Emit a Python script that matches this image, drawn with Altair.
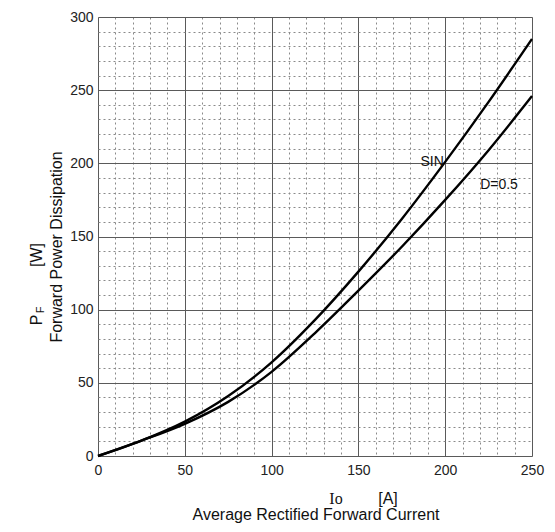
import altair as alt
import pandas as pd

# Readings from the reference (Io in A, PF in W)
current = [0, 25, 50, 75, 100, 125, 150, 175, 200, 225, 250]
p_sin = [0, 10.5, 23.5, 41, 64, 93, 126, 162, 201, 242, 285]
p_d05 = [0, 10.5, 22, 37, 57.5, 84, 113, 143, 175, 209, 246]

x_ticks = list(range(0, 251, 10))
y_ticks = list(range(0, 301, 10))

curve_labels = ["SIN", "D=0.5"]
label_current = [192.5, 231]
label_power = [201, 185]

rows = [{"series": "SIN", "Io": a, "PF": b} for a, b in zip(current, p_sin)]
rows += [{"series": "D=0.5", "Io": a, "PF": b} for a, b in zip(current, p_d05)]
df = pd.DataFrame(rows)
lab = pd.DataFrame({"text": curve_labels, "Io": label_current, "PF": label_power})

FONT = "Liberation Sans"
W, H = 434, 439
LEFT = 90

grid_dash = {"condition": {"test": "datum.value % 50 === 0", "value": []}, "value": [2, 3]}
grid_color = {"condition": {"test": "datum.value % 50 === 0", "value": "#5a5a5a"}, "value": "#8a8a8a"}
label_expr = "datum.value % 50 === 0 ? datum.label : ''"

xscale = alt.Scale(domain=[0, 250], nice=False)
yscale = alt.Scale(domain=[0, 300], nice=False)

xaxis = alt.Axis(values=x_ticks, labelExpr=label_expr, grid=True,
                 gridDash=grid_dash, gridColor=grid_color, gridWidth=1,
                 ticks=False, domain=False, labelFont=FONT, labelFontSize=14,
                 labelColor="#222", labelPadding=7, labelFlush=False,
                 labelOverlap=False)
yaxis = alt.Axis(values=y_ticks, labelExpr=label_expr, grid=True,
                 gridDash=grid_dash, gridColor=grid_color, gridWidth=1,
                 ticks=False, domain=False, labelFont=FONT, labelFontSize=14,
                 labelColor="#222", labelPadding=5, labelFlush=False,
                 labelOverlap=False)

lines = alt.Chart(df).mark_line(interpolate="monotone", color="black", strokeWidth=2.4).encode(
    x=alt.X("Io:Q", scale=xscale, title=None, axis=xaxis),
    y=alt.Y("PF:Q", scale=yscale, title=None, axis=yaxis),
    detail="series:N",
)

labels = alt.Chart(lab).mark_text(font=FONT, fontSize=14, color="#111").encode(
    x=alt.X("Io:Q", scale=xscale, title=None, axis=xaxis),
    y=alt.Y("PF:Q", scale=yscale, title=None, axis=yaxis),
    text="text:N",
)

def txt(s, x, y, size=16, angle=0, font=FONT):
    d = pd.DataFrame({"t": [s]})
    return alt.Chart(d).mark_text(font=font, fontSize=size, angle=angle, color="#111",
                                  align="center", baseline="middle").encode(
        x=alt.value(x - LEFT - 8), y=alt.value(y - 17), text="t:N")

titles = [
    txt("Io", 336, 499, size=16, font="Liberation Serif"),
    txt("[A]", 388, 499, size=16),
    txt("Average Rectified Forward Current", 316, 515, size=16),
    txt("Forward Power Dissipation", 57, 247, size=16, angle=270),
    txt("P", 37, 320, size=16, angle=270),
    txt("F", 41, 310, size=11, angle=270),
    txt("[W]", 37, 255, size=16, angle=270),
]

chart = alt.layer(lines, labels, *titles).properties(
    width=W, height=H,
    autosize=alt.AutoSizeParams(type="none"),
    padding={"left": LEFT, "top": 9, "right": 14, "bottom": 67},
).configure_view(stroke="#333", strokeWidth=1.5).configure(background="white")

chart.save("out.html", embed_options={"renderer": "svg", "actions": False})
